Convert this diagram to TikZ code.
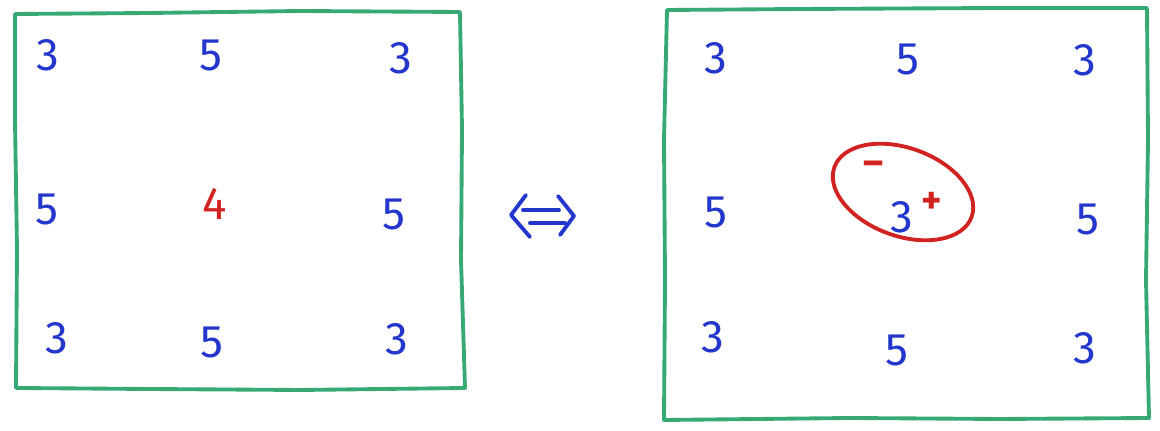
\documentclass[tikz,border=0pt]{standalone}
\usepackage{fontspec}
\setmainfont{Fira Sans}
\definecolor{mblue}{RGB}{35,55,205}
\definecolor{mred}{RGB}{210,35,35}
\definecolor{mgreen}{RGB}{55,170,115}
\begin{document}
\begin{tikzpicture}[x=0.02cm,y=-0.02cm,
  frame/.style={draw=mgreen,line width=2.2pt,line join=round,line cap=round},
  num/.style={text=mblue,font=\fontsize{26}{26}\selectfont,inner sep=0pt},
  rnum/.style={text=mred,font=\fontsize{26}{26}\selectfont,inner sep=0pt},
  sgn/.style={text=mred,font=\fontsize{22}{22}\selectfont\bfseries,inner sep=0pt},
  stroke/.style={draw=mblue,line width=2.2pt,line cap=round,line join=round}]
\useasboundingbox (0,0) rectangle (1160,431);
% left frame
\draw[frame] (15,14) -- (150,13) -- (300,11) -- (460,12) -- (462,130) -- (461,260) -- (465,388)
  -- (300,390) -- (150,389) -- (16,388) -- (17,250) -- (15,120) -- cycle;
% right frame
\draw[frame] (667,10) -- (800,9) -- (1000,8) -- (1147,8) -- (1148,140) -- (1146,280) -- (1149,418)
  -- (1000,419) -- (850,418) -- (664,420) -- (665,280) -- (664,140) -- cycle;
% left numbers
\node[num] (l11) at (48,55) {3};
\node[num] (l12) at (211,56) {5};
\node[num] (l13) at (401,58) {3};
\node[num] (l21) at (47,210) {5};
\node[rnum] (l22) at (215,204) {4};
\node[num] (l23) at (394,214) {5};
\node[num] (l31) at (57,338) {3};
\node[num] (l32) at (212,342) {5};
\node[num] (l33) at (397,339) {3};
% arrow
\coordinate (a1) at (526,195); \coordinate (a2) at (511,215); \coordinate (a3) at (530,237);
\coordinate (b1) at (558,196); \coordinate (b2) at (574,216); \coordinate (b3) at (560,235);
\coordinate (c1) at (523,210); \coordinate (c2) at (559,210);
\coordinate (d1) at (530,223); \coordinate (d2) at (565,223);
\draw[stroke] (a1) -- (a2) -- (a3);
\draw[stroke] (b1) -- (b2) -- (b3);
\draw[stroke] (c1) -- (c2);
\draw[stroke] (d1) -- (d2);
% right numbers
\node[num] (r11) at (716,58) {3};
\node[num] (r12) at (908,60) {5};
\node[num] (r13) at (1085,60) {3};
\node[num] (r21) at (716,212) {5};
\node[num] (r22) at (902,217) {3};
\node[num] (r23) at (1088,220) {5};
\node[num] (r31) at (713,337) {3};
\node[num] (r32) at (897,350) {5};
\node[num] (r33) at (1085,348) {3};
\node[sgn] (plus) at (932,203) {+};
\node[sgn] (minus) at (874,168) {–};
% ellipse
\coordinate (ec) at (903,192);
\draw[mred,line width=2.2pt,rotate around={-20:(ec)}] (ec) ellipse [x radius=1.46cm, y radius=0.88cm];
\end{tikzpicture}
\end{document}
